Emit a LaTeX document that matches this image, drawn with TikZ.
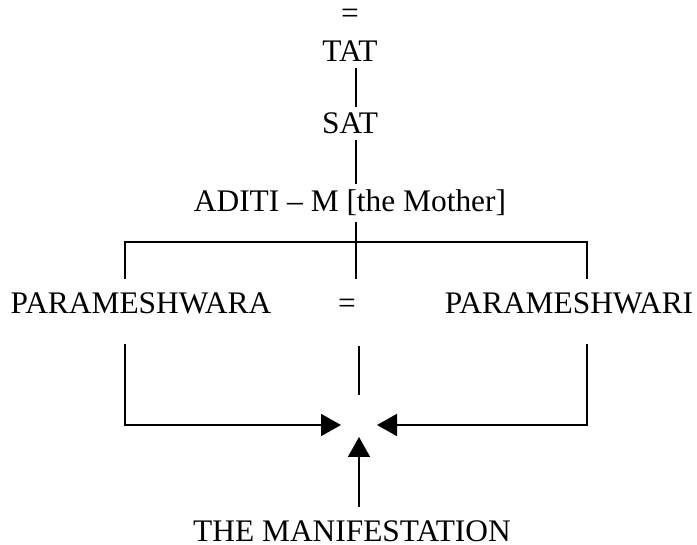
\documentclass[tikz,border=0pt]{standalone}
\usepackage{fontspec}
\setmainfont{Liberation Serif}
\usepackage{tikz}
\usetikzlibrary{arrows.meta,calc}

\begin{document}
\begin{tikzpicture}[x=0.5pt,y=-0.5pt,line width=0.9pt,
  lbl/.style={font=\fontsize{15.7}{18}\selectfont,inner sep=2.5pt,anchor=base},
  arr/.style={-{Triangle[length=10pt,width=11pt]}}]
\useasboundingbox (0,0) rectangle (697,545);
\coordinate (spine) at (356,0);
\coordinate (lft) at (125,0);
\coordinate (rgt) at (587,0);
\coordinate (bar) at (356,242);
\coordinate (meet) at (359,425);
\node[lbl] (eqtop) at (350,24) {=};
\node[lbl] (tat) at (350,62) {TAT};
\node[lbl] (sat) at (350,134) {SAT};
\node[lbl] (aditi) at (350,212) {ADITI -- M [the Mother]};
\node[lbl] (pl) at (141,314) {PARAMESHWARA};
\node[lbl] (eq) at (347,314) {=};
\node[lbl] (pr) at (569,314) {PARAMESHWARI};
\node[lbl] (manif) at (352,541) {THE MANIFESTATION};
\draw (tat.south -| spine) -- (sat.north -| spine);
\draw (sat.south -| spine) -- (aditi.north -| spine);
\draw[shorten >=4pt] (aditi.south -| spine) -- (pl.north -| spine);
\draw[shorten <=4pt,shorten >=4pt] (pl.north -| lft) |- (bar) -| (pr.north -| rgt);
\draw[shorten <=13pt,shorten >=15pt] (eq.south -| meet) -- (meet);
\draw[arr,shorten <=12pt,shorten >=9pt] (pl.south -| lft) |- (meet);
\draw[arr,shorten <=12pt,shorten >=9pt] (pr.south -| rgt) |- (meet);
\draw[arr,shorten <=3.5pt,shorten >=6pt] (manif.north -| meet) -- (meet);
\end{tikzpicture}
\end{document}
